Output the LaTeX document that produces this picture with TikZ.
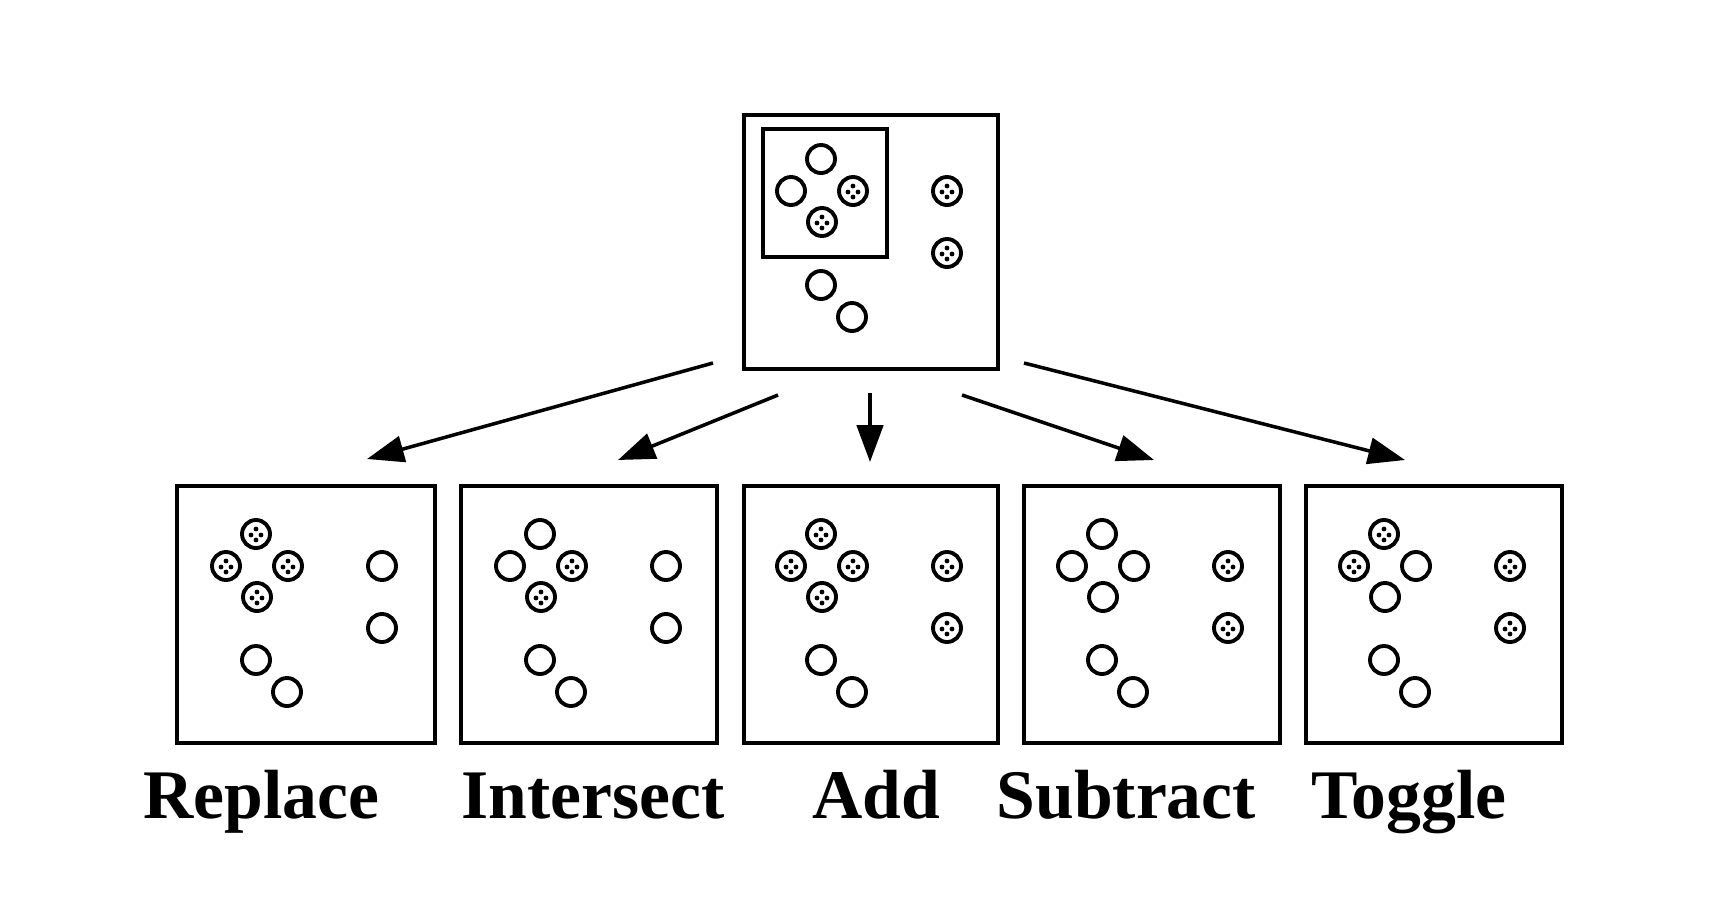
\documentclass[tikz,border=0pt]{standalone}
\usepackage{fontspec}
\setmainfont{Liberation Serif}
\usetikzlibrary{arrows.meta}

\begin{document}
\begin{tikzpicture}[x=0.01cm,y=-0.01cm,
	frame/.style={draw,line width=1.1pt,inner sep=0pt},
	ball/.style={circle,draw,line width=1.1pt,minimum size=0.28cm,inner sep=0pt,#1},
	blank/.style={},
	chosen/.style={path picture={
		\foreach \dx/\dy in {0/-5,-5/1,5/1,0/6}
			\fill ([shift={(\dx,\dy)}]path picture bounding box.center) circle (2.4);}},
	op/.style={-{Triangle[length=10.5pt,width=7.5pt]},line width=1pt},
	opname/.style={anchor=base west,inner sep=0pt,font=\fontsize{19.8}{22}\selectfont\bfseries}]
	\useasboundingbox (0,0) rectangle (1722,912);

	% frames
	\node[frame,minimum width=2.54cm,minimum height=2.54cm] (top) at (871,242) {};
	\node[frame,minimum width=1.24cm,minimum height=1.28cm] (sel) at (825,193) {};
	\foreach \bn/\cx/\w in {replace/306/2.58,intersect/589/2.56,add/871/2.54,subtract/1152/2.56,toggle/1434/2.56}
		\node[frame,minimum width=\w cm,minimum height=2.57cm] (\bn) at (\cx,614.5) {};

	% circles: t l r b, right column, lower pair always empty
	\foreach \bn/\ox/\oy/\ta/\tb/\tc/\td/\te/\tf in {%
		top/742/111/blank/blank/chosen/chosen/chosen/chosen,
		replace/177/486/chosen/chosen/chosen/chosen/blank/blank,
		intersect/461/486/blank/blank/chosen/chosen/blank/blank,
		add/742/486/chosen/chosen/chosen/chosen/chosen/chosen,
		subtract/1023/486/blank/blank/blank/blank/chosen/chosen,
		toggle/1305/486/chosen/chosen/blank/blank/chosen/chosen}
	{
		\node[ball=\ta] (\bn-t) at ({\ox+79},{\oy+48}) {};
		\node[ball=\tb] (\bn-l) at ({\ox+49},{\oy+80}) {};
		\node[ball=\tc] (\bn-r) at ({\ox+111},{\oy+80}) {};
		\node[ball=\td] (\bn-b) at ({\ox+80},{\oy+111}) {};
		\node[ball=\te] (\bn-c1) at ({\ox+205},{\oy+80}) {};
		\node[ball=\tf] (\bn-c2) at ({\ox+205},{\oy+142}) {};
		\node[ball] (\bn-p) at ({\ox+79},{\oy+174}) {};
		\node[ball] (\bn-q) at ({\ox+110},{\oy+206}) {};
	}

	% arrows
	\coordinate (s1) at (713,363); \coordinate (e1) at (367,459);
	\coordinate (s2) at (778,395); \coordinate (e2) at (618,460);
	\coordinate (s3) at (870,393); \coordinate (e3) at (870,462);
	\coordinate (s4) at (962,395); \coordinate (e4) at (1154,460);
	\coordinate (s5) at (1024,363); \coordinate (e5) at (1405,460);
	\foreach \i in {1,...,5}
		\draw[op] (s\i) -- (e\i);

	% names
	\node[opname] (n1) at (143,818) {Replace};
	\node[opname] (n2) at (461,818) {Intersect};
	\node[opname] (n3) at (812,818) {Add};
	\node[opname] (n4) at (996,818) {Subtract};
	\node[opname] (n5) at (1311,818) {Toggle};
\end{tikzpicture}
\end{document}
